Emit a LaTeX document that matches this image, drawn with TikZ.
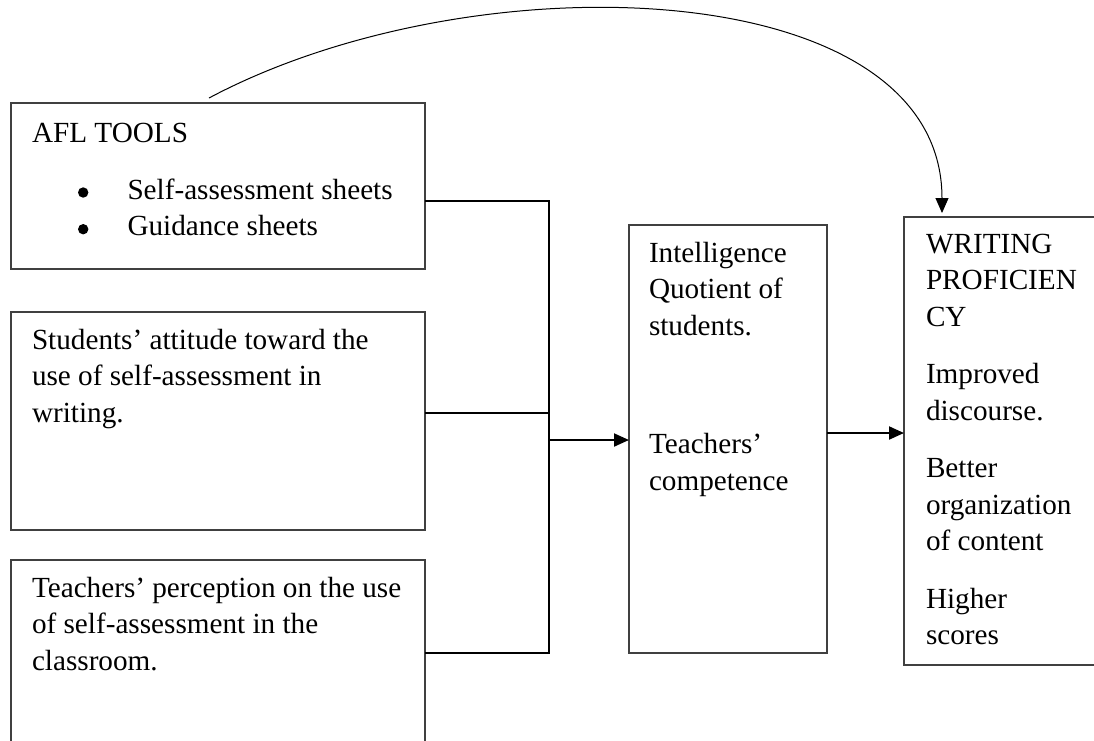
\documentclass[tikz,border=0pt]{standalone}
\usepackage{fontspec}
\setmainfont{Liberation Serif}
\usetikzlibrary{arrows.meta}
\newcommand{\bigdot}{\raisebox{1.5pt}{\tikz\fill[black] (0,0) circle (5.2pt);}}
\begin{document}
\begin{tikzpicture}[x=1pt,y=-1pt,
  box/.style={draw=black!75,line width=1.1pt,anchor=north west,inner sep=0pt,outer sep=0pt},
  txt/.style={anchor=base west,inner sep=0pt,outer sep=0pt},
  link/.style={draw=black,line width=1.1pt},
  arr/.style={draw=black,line width=2pt,-{Triangle[length=15pt,width=13pt]}},
  curv/.style={draw=black,line width=1pt,-{Triangle[length=15pt,width=13pt]}},
  font=\fontsize{29.2pt}{36.7pt}\selectfont]
\useasboundingbox (0,0) rectangle (1094,740);
\clip (0,0) rectangle (1094,740);

% boxes
\node[box,minimum width=414pt,minimum height=166pt] (afl) at (11,103) {};
\node[box,minimum width=414pt,minimum height=218pt] (att) at (11,312) {};
\node[box,minimum width=414pt,minimum height=200pt] (per) at (11,560) {};
\node[box,minimum width=198pt,minimum height=428pt] (mid) at (629,225) {};
\node[box,minimum width=196pt,minimum height=448pt] (wp) at (904,217) {};

% texts
\node[txt] (taf) at (32,142) {\parbox[t]{390pt}{\raggedright AFL TOOLS\\[20.5pt]
\hspace*{46pt}\makebox[49.5pt][l]{\bigdot}Self-assessment sheets\\
\hspace*{46pt}\makebox[49.5pt][l]{\bigdot}Guidance sheets}};
\node[txt] (tat) at (32,349) {\parbox[t]{390pt}{\raggedright Students’ attitude toward the\\use of self-assessment in\\writing.}};
\node[txt] (tpe) at (32,597) {\parbox[t]{390pt}{\raggedright Teachers’ perception on the use\\of self-assessment in the\\classroom.}};
\node[txt] (tmi) at (649,262) {\parbox[t]{175pt}{\raggedright Intelligence\\Quotient of\\students.\\[81.3pt]Teachers’\\competence}};
\node[txt] (twp) at (926,253) {\parbox[t]{165pt}{\raggedright WRITING\\PROFICIEN\\CY\\[20.5pt]Improved\\discourse.\\[20.5pt]Better\\organization\\of content\\[20.5pt]Higher\\scores}};

% bracket and arrows
\coordinate (jtop) at (549,201);
\coordinate (jmid) at (549,413);
\coordinate (jout) at (549,440);
\draw[link] (afl.east |- jtop) -- (jtop) |- (per.east |- 0,653);
\draw[link] (att.east |- jmid) -- (jmid);
\draw[arr] (jout) -- (mid.west |- jout);
\coordinate (m2) at (827,433);
\draw[arr] (mid.east |- m2) -- (wp.west |- m2);

% curved feedback arrow
\coordinate (cs) at (209,98);
\coordinate (ce) at (942,213);
\draw[curv] (cs) .. controls (474,-43) and (942,-27) .. (ce);
\end{tikzpicture}
\end{document}
